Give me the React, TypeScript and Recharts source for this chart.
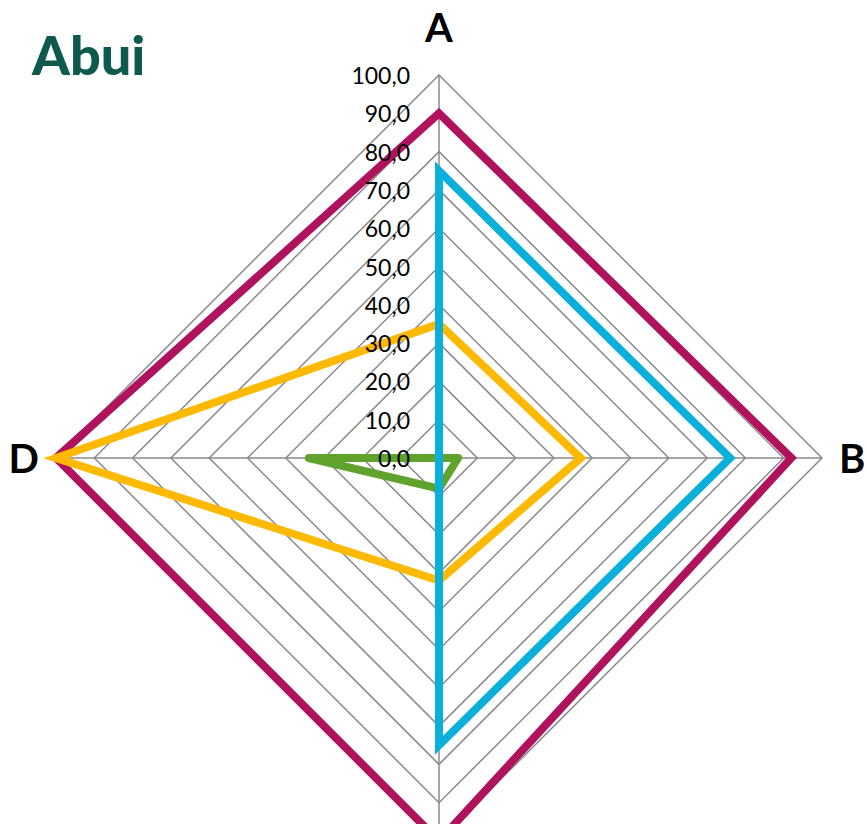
import { RadarChart, Radar, PolarGrid, PolarAngleAxis, PolarRadiusAxis } from 'recharts';

const categories = ['A', 'B', 'C', 'D'];
const magentaValues = [90, 92, 100, 100];
const blueValues = [75, 76, 75, 0];
const orangeValues = [35, 37, 32, 100];
const greenValues = [0, 5, 8, 34];
const radiusTicks = [0, 10, 20, 30, 40, 50, 60, 70, 80, 90, 100];

const CX = 439;
const CY = 458;
const R = 383;

const data = categories.map((cat, i) => ({
  cat,
  magenta: magentaValues[i],
  blue: blueValues[i],
  orange: orangeValues[i],
  green: greenValues[i],
}));

const formatTick = (v: number) => v.toFixed(1).replace('.', ',');

const RadiusTick = ({ x, y, payload }: any) => (
  <text
    x={x - 29}
    y={y}
    textAnchor="end"
    dominantBaseline="central"
    fontFamily="Lato, sans-serif"
    fontSize={23}
    fill="#000"
  >
    {formatTick(payload.value)}
  </text>
);

const AngleTick = ({ x, y, payload }: any) => {
  const dx = x - CX;
  const dy = y - CY;
  const len = Math.sqrt(dx * dx + dy * dy) || 1;
  const ux = dx / len;
  const uy = dy / len;
  const horizontal = Math.abs(ux) > 0.5;
  const gap = horizontal ? 17 : 33;
  const px = CX + ux * (R + gap);
  const py = CY + uy * (R + gap);
  let anchor = 'middle';
  if (ux > 0.5) anchor = 'start';
  if (ux < -0.5) anchor = 'end';
  return (
    <text
      x={px}
      y={py}
      textAnchor={anchor}
      dominantBaseline={horizontal ? 'central' : uy < 0 ? 'auto' : 'hanging'}
      fontFamily="Lato, sans-serif"
      fontWeight={700}
      fontSize={40}
      fill="#000"
    >
      {payload.value}
    </text>
  );
};

export default function App() {
  return (
    <div style={{ position: 'relative', width: 867, height: 824, background: '#fff', overflow: 'hidden' }}>
      <style>{`body{margin:0}`}</style>
      <div
        style={{
          position: 'absolute',
          left: 32,
          top: 23,
          fontFamily: 'Lato, sans-serif',
          fontWeight: 900,
          fontSize: 54,
          color: '#0f5a4e',
          lineHeight: 1.2,
        }}
      >
        Abui
      </div>
      <RadarChart width={867} height={824} data={data} cx={CX} cy={CY} outerRadius={R} margin={{ top: 0, right: 0, bottom: 0, left: 0 }}>
        <PolarGrid gridType="polygon" stroke="#8a8a8a" strokeWidth={1.5} />
        <PolarAngleAxis dataKey="cat" tick={<AngleTick />} tickLine={false} axisLine={false} />
        <PolarRadiusAxis
          angle={90}
          domain={[0, 100]}
          ticks={radiusTicks as any}
          tickCount={11}
          axisLine={false}
          tick={<RadiusTick />}
        />
        <Radar dataKey="magenta" stroke="#b0135e" strokeWidth={8} fill="none" fillOpacity={0} dot={false} isAnimationActive={false} strokeLinejoin="miter" />
        <Radar dataKey="orange" stroke="#ffb900" strokeWidth={8} fill="none" fillOpacity={0} dot={false} isAnimationActive={false} strokeLinejoin="miter" />
        <Radar dataKey="green" stroke="#5fa22c" strokeWidth={8} fill="none" fillOpacity={0} dot={false} isAnimationActive={false} strokeLinejoin="round" />
        <Radar dataKey="blue" stroke="#0aafdc" strokeWidth={8} fill="none" fillOpacity={0} dot={false} isAnimationActive={false} strokeLinejoin="miter" />
      </RadarChart>
    </div>
  );
}
